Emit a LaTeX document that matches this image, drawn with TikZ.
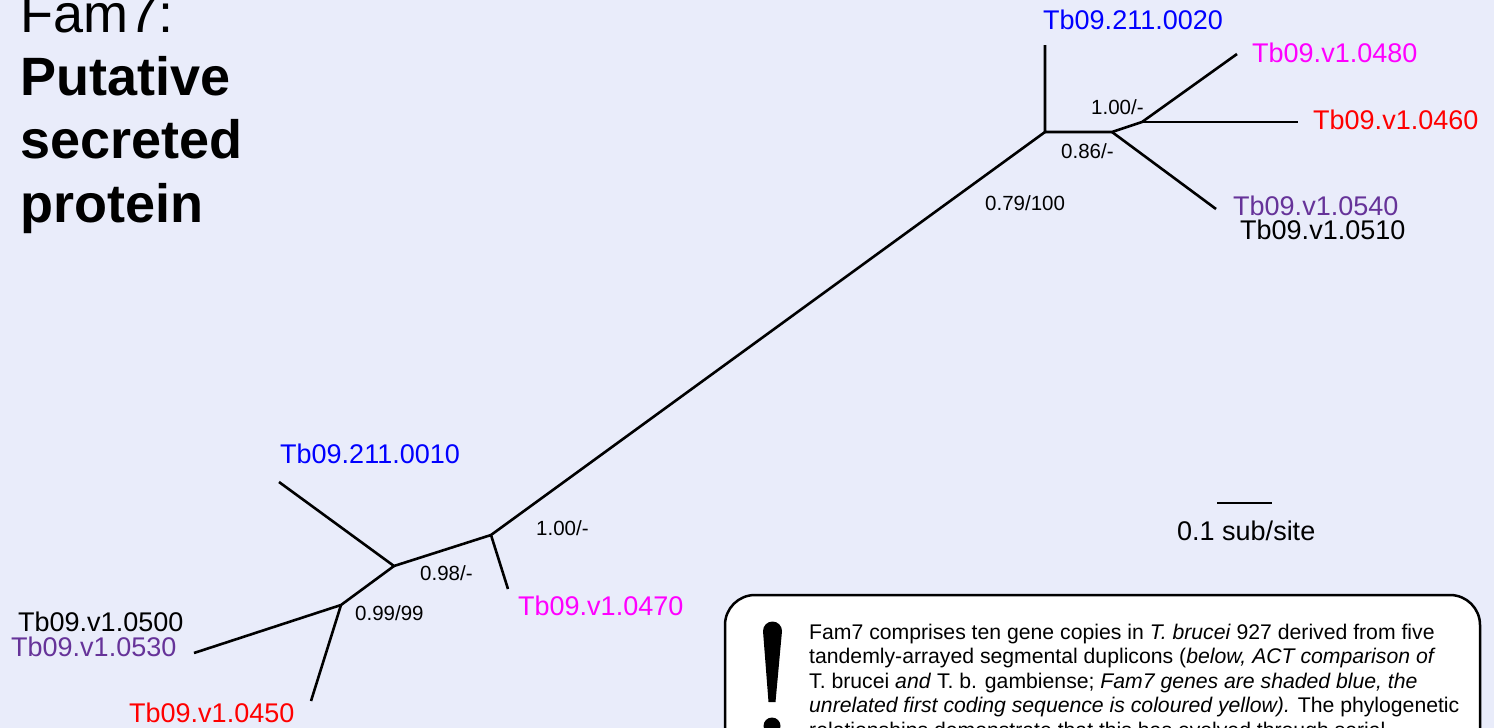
\documentclass[tikz,border=0pt]{standalone}
\usepackage{fontspec}
\setmainfont{Liberation Sans}
\definecolor{bgc}{RGB}{233,236,250}
\definecolor{lblue}{RGB}{0,0,255}
\definecolor{lmag}{RGB}{255,0,255}
\definecolor{lred}{RGB}{255,0,0}
\definecolor{lpur}{RGB}{102,51,153}
\begin{document}
\begin{tikzpicture}[x=1pt,y=-1pt,
  br/.style={line width=2.6pt, line join=round},
  lab/.style={anchor=base west, inner sep=0pt, font=\fontsize{27}{32}\selectfont},
  boot/.style={anchor=base west, inner sep=0pt, font=\fontsize{20.5}{24}\selectfont},
  ttl/.style={anchor=base west, inner sep=0pt, font=\fontsize{54}{63}\selectfont},
  btxt/.style={anchor=base west, inner sep=0pt, font=\fontsize{21.2}{24.5}\selectfont}]
\useasboundingbox (0,0) rectangle (1494,728);
\begin{scope}
\clip (0,0) rectangle (1494,728);
\fill[bgc] (0,0) rectangle (1494,728);

% title
\node[ttl] (t1) at (20,32) {Fam7:};
\node[ttl] (t2) at (20,95) {\bfseries Putative};
\node[ttl] (t3) at (20,158) {\bfseries secreted};
\node[ttl] (t4) at (20,222) {\bfseries protein};

% tree coordinates
\coordinate (A) at (1045,132);
\coordinate (L020) at (1045,45);
\coordinate (B) at (1112,132);
\coordinate (C) at (1142,122);
\coordinate (L480) at (1237,54);
\coordinate (L460) at (1298,122);
\coordinate (L540) at (1216,209);
\coordinate (D) at (491,535);
\coordinate (L470) at (508,589);
\coordinate (E) at (394,566);
\coordinate (L010) at (279,482);
\coordinate (F) at (341,605);
\coordinate (L500) at (194,653);
\coordinate (L450) at (311,701);

\draw[br] (L020) -- (A) -- (B) -- (C) -- (L480);
\draw[br] (C) -- (L460);
\draw[br] (B) -- (L540);
\draw[br] (A) -- (D) -- (L470);
\draw[br] (D) -- (E) -- (L010);
\draw[br] (E) -- (F) -- (L500);
\draw[br] (F) -- (L450);

% leaf labels
\node[lab, text=lblue] (n020) at (1043,29) {Tb09.211.0020};
\node[lab, text=lmag] (n480) at (1252,62) {Tb09.v1.0480};
\node[lab, text=lred] (n460) at (1313,129) {Tb09.v1.0460};
\node[lab, text=lpur] (n540) at (1233,215) {Tb09.v1.0540};
\node[lab] (n510) at (1240,239) {Tb09.v1.0510};
\node[lab, text=lblue] (n010) at (280,463) {Tb09.211.0010};
\node[lab, text=lmag] (n470) at (518,615) {Tb09.v1.0470};
\node[lab] (n500) at (18,631) {Tb09.v1.0500};
\node[lab, text=lpur] (n530) at (11,656) {Tb09.v1.0530};
\node[lab, text=lred] (n450) at (129,722) {Tb09.v1.0450};

% support labels
\node[boot] (b1) at (1091,114) {1.00/-};
\node[boot] (b2) at (1061,158) {0.86/-};
\node[boot] (b3) at (985,210) {0.79/100};
\node[boot] (b4) at (536,535) {1.00/-};
\node[boot] (b5) at (420,580) {0.98/-};
\node[boot] (b6) at (355,620) {0.99/99};

% scale bar
\coordinate (s1) at (1217,503);
\coordinate (s2) at (1272,503);
\draw[line width=2.5pt] (s1) -- (s2);
\node[lab] (sc) at (1177,540) {0.1 sub/site};

% note box
\draw[line width=2.5pt, fill=white, rounded corners=30pt] (725,595) rectangle (1480,820);
\fill (763,631) arc[start angle=180, end angle=360, radius=9.5] -- (775.5,702) -- (768.5,702) -- cycle;
\fill (772,726) circle[radius=8.5];
\node[btxt] (l1) at (809,639) {Fam7 comprises ten gene copies in \textit{T. brucei} 927 derived from five};
\node[btxt] (l2) at (809,663.5) {tandemly-arrayed segmental duplicons (\textit{below, ACT comparison of}};
\node[btxt] (l3) at (809,688) {T. brucei \textit{and} T. b. gambiense; \textit{Fam7 genes are shaded blue, the}};
\node[btxt] (l4) at (809,712.5) {\textit{unrelated first coding sequence is coloured yellow).} The phylogenetic};
\node[btxt] (l5) at (809,737) {relationships demonstrate that this has evolved through serial};
\end{scope}
\end{tikzpicture}
\end{document}
